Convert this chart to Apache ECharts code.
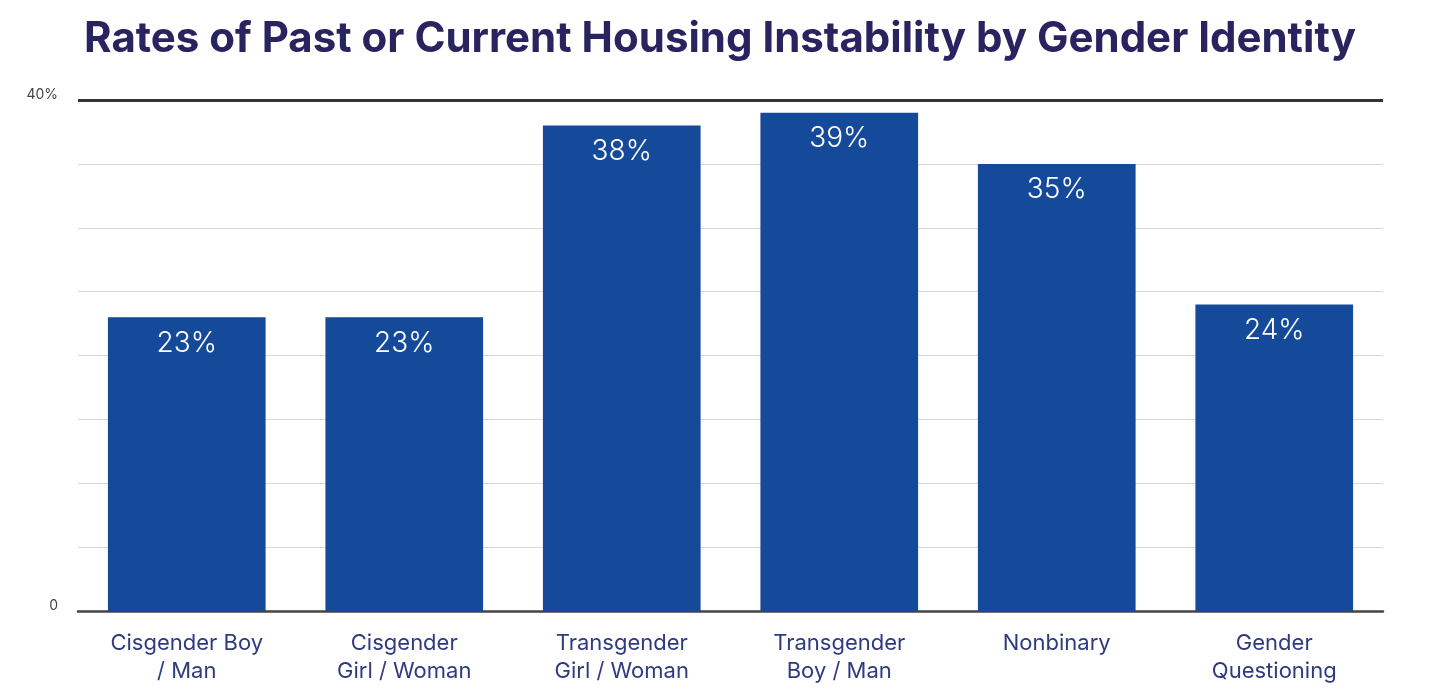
<!DOCTYPE html>
<html>
<head>
<meta charset="utf-8">
<style>
  html, body { margin: 0; padding: 0; background: #fff; }
  #chart { width: 1440px; height: 698px; }
</style>
<script src="https://cdn.jsdelivr.net/npm/echarts@6/dist/echarts.min.js"></script>
</head>
<body>
<div id="chart"></div>
<script>
// categories and values
var categories = ['Cisgender Boy\n/ Man', 'Cisgender\nGirl / Woman', 'Transgender\nGirl / Woman', 'Transgender\nBoy / Man', 'Nonbinary', 'Gender\nQuestioning'];
var rates = [23, 23, 38, 39, 35, 24];
var yTicks = [0, 40];

var chart = echarts.init(document.getElementById('chart'));

chart.setOption({
    animation: false,
    title: {
        text: 'Rates of Past or Current Housing Instability by Gender Identity',
        left: 'center',
        top: 13,
        textStyle: {
            fontFamily: 'Inter',
            fontSize: 42,
            fontWeight: 700,
            color: '#29245f'
        }
    },
    grid: {
        left: 78,
        right: 57,
        top: 100,
        bottom: 87
    },
    xAxis: {
        type: 'category',
        data: categories,
        axisTick: { show: false },
        axisLine: { lineStyle: { color: '#444', width: 2.5 } },
        axisLabel: {
            margin: 18,
            fontFamily: 'Inter',
            fontSize: 22,
            lineHeight: 28,
            verticalAlign: 'top',
            color: '#2e3b80'
        }
    },
    yAxis: {
        type: 'value',
        min: 0,
        max: 40,
        interval: 5,
        axisLine: { show: false },
        axisTick: { show: false },
        splitLine: { lineStyle: { color: '#d6d6d6', width: 1.2 } },
        axisLabel: {
            margin: 20,
            fontFamily: 'Inter',
            fontSize: 14,
            lineHeight: 10,
            verticalAlign: 'bottom',
            color: '#444',
            formatter: function (v) {
                if (yTicks.indexOf(v) < 0) return '';
                return v === 0 ? '0' : v + '%';
            }
        }
    },
    series: [{
        type: 'bar',
        data: rates,
        barWidth: '72.5%',
        itemStyle: { color: '#154a9a' },
        label: {
            show: true,
            position: 'insideTop',
            distance: 12,
            fontFamily: 'Inter',
            fontWeight: 300,
            fontSize: 28,
            color: '#fff',
            formatter: '{c}%'
        },
        markLine: {
            silent: true,
            symbol: 'none',
            label: { show: false },
            lineStyle: { color: '#333', width: 3, type: 'solid' },
            data: [{ yAxis: 40 }]
        }
    }]
});
</script>
</body>
</html>
